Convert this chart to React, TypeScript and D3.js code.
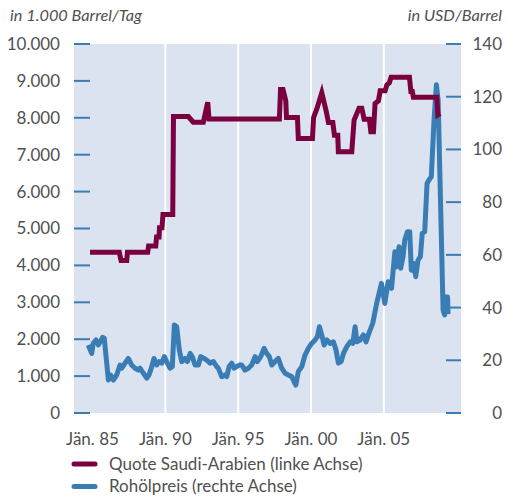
import React from 'react'
import * as d3 from 'd3'

// Saudi-Arabian production quota, in 1.000 barrel/day (left axis)
const quotaDates = [
  1984.83, 1986.84, 1986.96, 1987.35, 1987.40, 1988.79, 1988.85, 1989.34, 1989.40, 1989.57,
  1989.60, 1989.77, 1989.84, 1990.51, 1990.56, 1991.58, 1991.92, 1992.61, 1992.91, 1993.00,
  1997.83, 1997.91, 1998.08, 1998.27, 1998.32, 1999.07, 1999.13, 2000.10, 2000.18, 2000.40,
  2000.74, 2001.04, 2001.20, 2001.50, 2001.61, 2001.84, 2001.88, 2002.80, 2002.96, 2003.30,
  2003.49, 2003.65, 2004.01, 2004.11, 2004.29, 2004.40, 2004.63, 2004.75, 2005.09, 2005.21,
  2005.38, 2005.50, 2006.76, 2006.86, 2006.96, 2007.03, 2008.64, 2008.71, 2008.87,
]
const quotaValues = [
  4353, 4353, 4133, 4133, 4353, 4353, 4524, 4524, 4769, 4769,
  5017, 5017, 5380, 5380, 8034, 8034, 7880, 7880, 8420, 7970,
  7970, 8770, 8770, 8460, 8010, 8010, 7440, 7440, 8010, 8240,
  8680, 8190, 7870, 7870, 7530, 7530, 7080, 7080, 7940, 8260,
  8260, 7960, 7960, 7620, 7620, 8390, 8460, 8730, 8730, 8890,
  8950, 9100, 9100, 8710, 8710, 8560, 8560, 8080, 8120,
]

// Crude oil price, USD/barrel (right axis)
const priceDates = [
  1984.71, 1984.95, 1985.05, 1985.24, 1985.40, 1985.70, 1985.81, 1986.09, 1986.25, 1986.43,
  1986.66, 1986.89, 1987.01, 1987.23, 1987.46, 1987.69, 1987.92, 1988.15, 1988.26, 1988.49,
  1988.72, 1988.88, 1989.07, 1989.22, 1989.41, 1989.57, 1989.75, 1989.93, 1990.14, 1990.32,
  1990.48, 1990.62, 1990.78, 1990.96, 1991.13, 1991.35, 1991.51, 1991.70, 1991.85, 1992.04,
  1992.27, 1992.43, 1992.66, 1992.84, 1993.07, 1993.30, 1993.53, 1993.64, 1993.87, 1994.10,
  1994.22, 1994.38, 1994.56, 1994.72, 1994.90, 1995.08, 1995.25, 1995.47, 1995.70, 1995.93,
  1996.16, 1996.32, 1996.55, 1996.78, 1996.96, 1997.14, 1997.31, 1997.53, 1997.76, 1997.99,
  1998.22, 1998.45, 1998.68, 1998.79, 1998.96, 1999.13, 1999.37, 1999.59, 1999.82, 2000.05,
  2000.28, 2000.44, 2000.58, 2000.74, 2000.90, 2001.09, 2001.31, 2001.54, 2001.72, 2001.88,
  2002.07, 2002.23, 2002.46, 2002.69, 2002.87, 2003.03, 2003.15, 2003.37, 2003.60, 2003.78,
  2004.01, 2004.24, 2004.33, 2004.51, 2004.84, 2005.07, 2005.30, 2005.53, 2005.76, 2005.87,
  2006.05, 2006.16, 2006.32, 2006.44, 2006.62, 2006.78, 2006.89, 2007.05, 2007.19, 2007.35,
  2007.51, 2007.64, 2007.81, 2007.97, 2008.10, 2008.26, 2008.45, 2008.61, 2008.73, 2009.07,
  2009.18, 2009.27, 2009.38, 2009.41,
]
const priceValues = [
  25.8, 22.6, 26.4, 27.7, 25.8, 28.7, 28.3, 12.5, 14.4, 12.5,
  14.4, 18.2, 17.0, 18.9, 20.7, 18.2, 17.0, 16.3, 17.0, 15.1,
  13.2, 14.4, 17.6, 20.7, 18.2, 19.5, 18.9, 21.4, 18.9, 17.0,
  17.6, 33.4, 32.7, 23.9, 19.5, 20.7, 19.5, 22.6, 21.4, 18.2,
  18.2, 21.4, 20.7, 20.1, 18.9, 19.5, 17.6, 17.0, 13.8, 14.4,
  13.8, 17.6, 18.9, 17.0, 17.6, 18.2, 18.2, 16.3, 17.0, 18.2,
  21.4, 19.5, 21.4, 24.5, 22.6, 21.4, 18.2, 19.5, 20.7, 17.0,
  15.1, 14.4, 13.8, 12.5, 10.6, 15.7, 17.6, 22.0, 24.5, 26.4,
  27.7, 28.9, 32.7, 29.6, 25.8, 27.7, 26.4, 27.0, 23.9, 18.9,
  19.5, 22.6, 25.2, 27.0, 26.4, 32.7, 27.0, 27.7, 29.6, 27.0,
  30.8, 34.0, 36.5, 41.6, 49.2, 41.6, 49.8, 47.3, 61.2, 55.5,
  63.1, 54.9, 59.3, 65.6, 68.8, 68.8, 54.2, 56.8, 51.7, 58.0,
  59.3, 68.2, 68.8, 87.1, 88.4, 89.6, 111.2, 124.5, 118.7, 39.0,
  37.2, 44.0, 44.0, 37.5,
]

const leftTicks = [0, 1000, 2000, 3000, 4000, 5000, 6000, 7000, 8000, 9000, 10000]
const rightTicks = [0, 20, 40, 60, 80, 100, 120, 140]
const yearTicks = [1985, 1990, 1995, 2000, 2005]
const yearLabels = ['Jän. 85', 'Jän. 90', 'Jän. 95', 'Jän. 00', 'Jän. 05']
const legendLabels = ['Quote Saudi-Arabien (linke Achse)', 'Rohölpreis (rechte Achse)']

const MAROON = '#7a0040'
const BLUE = '#3a7db5'
const TEXT = '#505050'
const FONT = 'Lato, "Open Sans", sans-serif'

export default function App() {
  const W = 506, H = 501
  const left = 74, right = 461, top = 44, bottom = 413

  const x = d3.scaleLinear().domain([1983.73, 2010.3]).range([left, right])
  const yL = d3.scaleLinear().domain([0, 10000]).range([bottom, top])
  const yR = d3.scaleLinear().domain([0, 140]).range([bottom, top])

  const quotaLine = d3.line<number>()
    .x((d, i) => x(quotaDates[i]))
    .y(d => yL(d))
  const priceLine = d3.line<number>()
    .x((d, i) => x(priceDates[i]))
    .y(d => yR(d))

  const fmt = d3.format(',')
  const deFmt = (v: number) => fmt(v).replace(/,/g, '.')

  return (
    <svg width={W} height={H} style={{ position: 'absolute', left: 0, top: 0, fontFamily: FONT }}>
      <rect x={left} y={top} width={right - left} height={bottom - top} fill="#dae3ef" />
      {yearTicks.slice(1).map(t => (
        <line key={t} x1={x(t)} x2={x(t)} y1={top} y2={bottom} stroke="#fff" strokeWidth={2} />
      ))}
      {leftTicks.map(t => (
        <g key={'l' + t}>
          <line x1={left} x2={left + 16} y1={yL(t)} y2={yL(t)} stroke={BLUE} strokeWidth={2} />
          <text x={60} y={yL(t)} dy="0.35em" textAnchor="end" fontSize={17} fill={TEXT}>{deFmt(t)}</text>
        </g>
      ))}
      {rightTicks.map(t => (
        <g key={'r' + t}>
          <line x1={right - 15} x2={right} y1={yR(t)} y2={yR(t)} stroke={BLUE} strokeWidth={2} />
          <text x={502} y={yR(t)} dy="0.35em" textAnchor="end" fontSize={17} fill={TEXT}>{t}</text>
        </g>
      ))}
      {yearTicks.map((t, i) => (
        <text key={'x' + t} x={x(t)} y={445} textAnchor="middle" fontSize={17} fill={TEXT}>{yearLabels[i]}</text>
      ))}
      <text x={10} y={21} fontSize={16.3} fontStyle="italic" fill={TEXT}>in 1.000 Barrel/Tag</text>
      <text x={502} y={21} textAnchor="end" fontSize={16.3} fontStyle="italic" fill={TEXT}>in USD/Barrel</text>

      <path d={priceLine(priceValues) || ''} fill="none" stroke={BLUE} strokeWidth={5} strokeLinejoin="round" />
      <path d={quotaLine(quotaValues) || ''} fill="none" stroke={MAROON} strokeWidth={5} strokeLinejoin="miter" />

      {legendLabels.map((label, i) => (
        <g key={label} transform={`translate(0, ${464 + i * 22.5})`}>
          <line x1={74} x2={95} y1={0} y2={0} stroke={i === 0 ? MAROON : BLUE} strokeWidth={5} strokeLinecap="round" />
          <text x={109} y={0} dy="0.35em" fontSize={17} fill={TEXT}>{label}</text>
        </g>
      ))}
    </svg>
  )
}
